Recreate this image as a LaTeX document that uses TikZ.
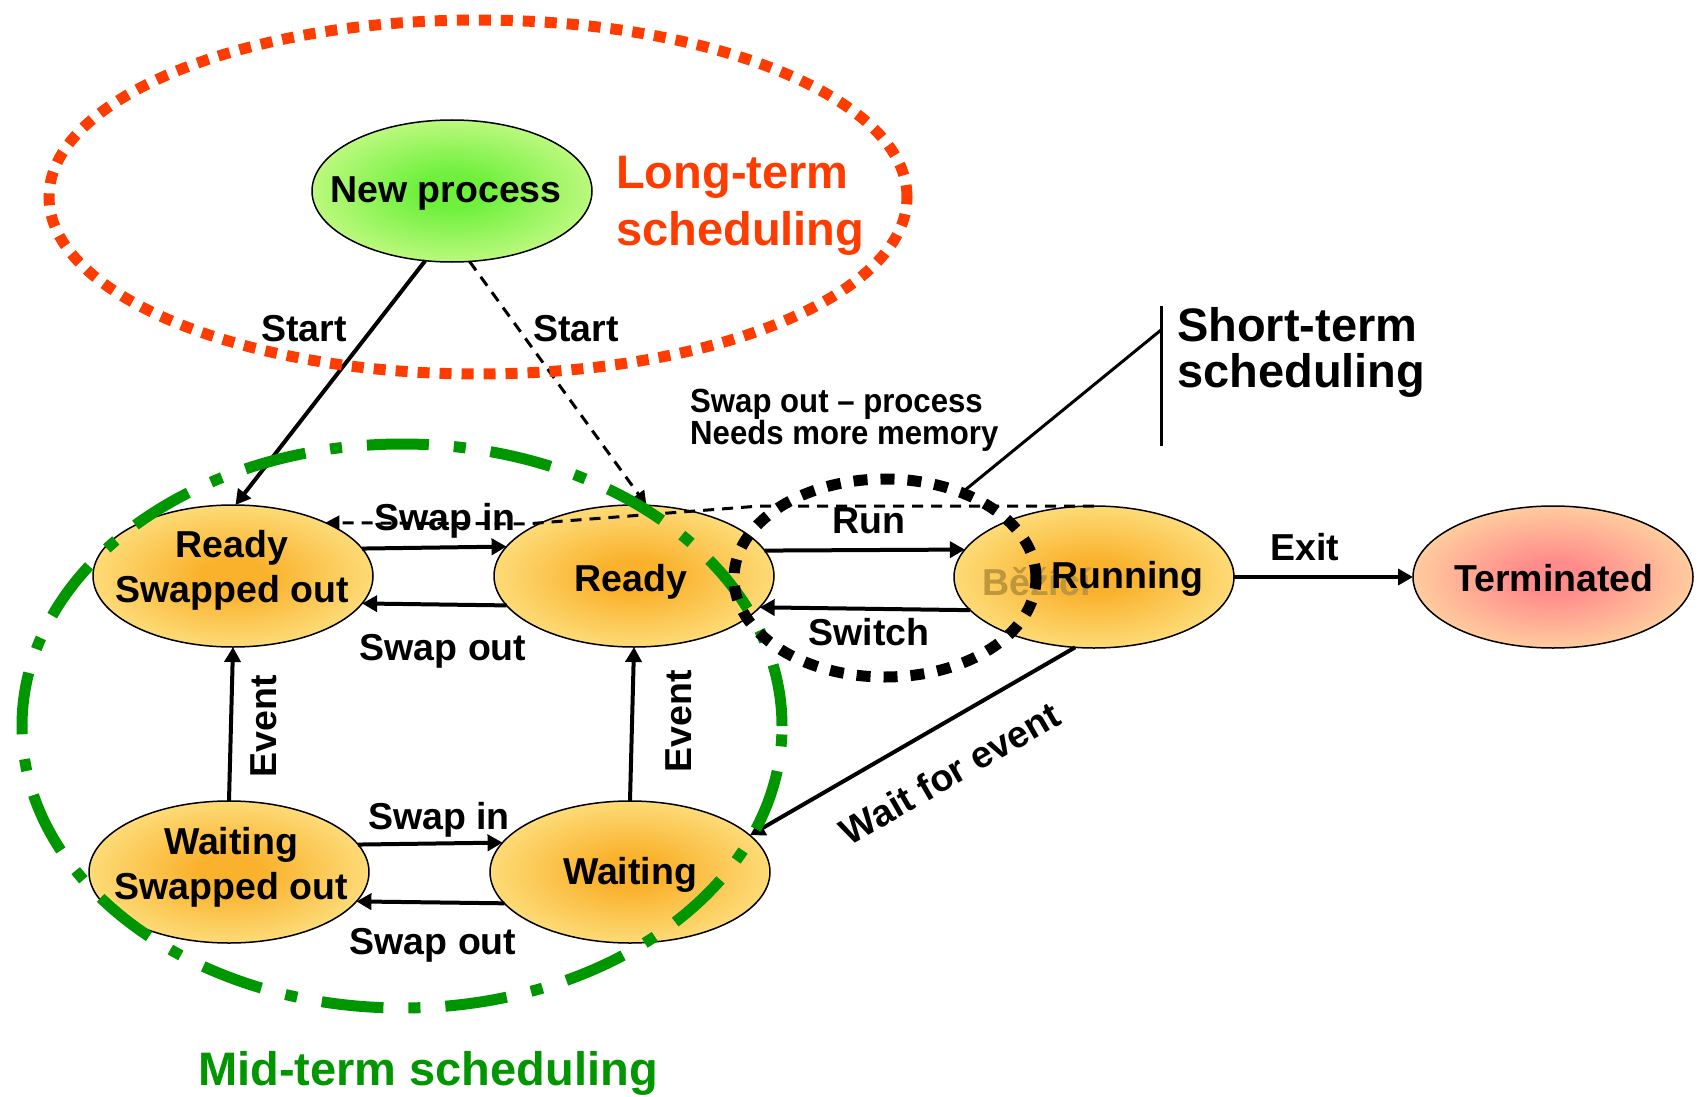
\documentclass[tikz,border=0pt]{standalone}
\usepackage{fontspec}
\setmainfont{Liberation Sans}
\newfontfamily\narrowsans[FakeStretch=0.93]{Liberation Sans}
\usetikzlibrary{shapes.geometric,arrows.meta,calc}
\definecolor{orA}{RGB}{250,178,45}
\definecolor{yeA}{RGB}{255,247,170}
\definecolor{grA}{RGB}{110,240,60}
\definecolor{grB}{RGB}{240,255,170}
\definecolor{piA}{RGB}{255,140,140}
\definecolor{ltred}{RGB}{255,60,0}
\definecolor{midgreen}{RGB}{0,150,0}
\definecolor{ghostc}{RGB}{190,150,60}
\pgfdeclareradialshading{shOrange}{\pgfpoint{0bp}{0bp}}{color(0bp)=(orA); color(6bp)=(orA); color(38bp)=(yeA); color(50bp)=(yeA)}
\pgfdeclareradialshading{shGreen}{\pgfpoint{0bp}{0bp}}{color(0bp)=(grA); color(6bp)=(grA); color(38bp)=(grB); color(50bp)=(grB)}
\pgfdeclareradialshading{shPink}{\pgfpoint{0bp}{0bp}}{color(0bp)=(piA); color(6bp)=(piA); color(38bp)=(yeA); color(50bp)=(yeA)}
\begin{document}
\begin{tikzpicture}[x=1pt,y=-1pt,
  proc/.style={ellipse, draw=black, line width=1.5pt, minimum width=280pt, minimum height=142pt, inner sep=0pt, outer sep=0pt},
  ptext/.style={font=\fontsize{37.5}{45}\selectfont\bfseries, align=center, inner sep=0pt},
  elab/.style={font=\fontsize{37.5}{43}\selectfont\bfseries, inner sep=0pt},
  bigtext/.style={font=\fontsize{47}{57}\selectfont\bfseries, align=left, inner sep=0pt},
  arr/.style={line width=4pt, -{Triangle[length=15pt,width=16pt]}},
  darr/.style={line width=3pt, -{Triangle[length=14pt,width=14pt]}, dash pattern=on 11pt off 8pt},
  schedring/.style={ellipse, inner sep=0pt, outer sep=0pt, line width=11pt}
]
\useasboundingbox (0,0) rectangle (1698,1097);

% process nodes
\node[proc, shading=shGreen] (np) at (452,191) {};
\node[ptext] (npt) at (446,193) {New process};
\node[proc, shading=shOrange] (rso) at (233,576) {};
\node[ptext] (rsot) at (232,570) {Ready\\Swapped out};
\node[proc, shading=shOrange] (r) at (634,576) {};
\node[ptext] (rt) at (631,582) {Ready};
\node[proc, shading=shOrange] (run) at (1094,577) {};
\node[ptext, anchor=base west, text=ghostc] (ghost) at (982,595) {Běžící};
\node[ptext, anchor=base west] (runt) at (1051,588) {Running};
\node[proc, shading=shPink] (term) at (1553,577) {};
\node[ptext] (termt) at (1554,578) {Terminated};
\node[proc, shading=shOrange] (ws) at (229,872) {};
\node[ptext] (wst) at (231,867) {Waiting\\Swapped out};
\node[proc, shading=shOrange] (w) at (630,872) {};
\node[ptext] (wt) at (630,875) {Waiting};

% connectors
\draw[arr] (np.249) -- (rso.88);
\draw[darr] (np.284) -- (r.80);
\draw[arr] (rso.12.8) -- (r.167.2);
\draw[arr] (r.-167.2) -- (rso.-12.8);
\draw[arr] (r.11.9) -- (run.168.1);
\draw[arr] (run.-165.6) -- (r.-14.4);
\draw[arr] (run.east) -- (term.west);
\draw[arr] (run.255) -- (w.17);
\draw[arr] (ws.12.3) -- (w.167.7);
\draw[arr] (w.-166.7) -- (ws.-13.3);
\draw[arr] (ws.north) -- (rso.south);
\draw[arr] (w.north) -- (r.south);
\coordinate (d1) at (760,506);
\coordinate (d2) at (525,524);
\draw[darr] (run.north) -- (d1) -- (d2) -- (rso.30);

% edge labels
\node[elab] (l1) at (304,329) {Start};
\node[elab] (l2) at (576,329) {Start};
\node[elab] (l3) at (445,521) {Swap in};
\node[elab] (l4) at (443,651) {Swap out};
\node[elab] (l5) at (869,521) {Run};
\node[elab] (l6) at (869,632) {Switch};
\node[elab] (l7) at (1305,547) {Exit};
\node[elab] (l8) at (439,820) {Swap in};
\node[elab] (l9) at (433,945) {Swap out};
\node[elab, rotate=90] (l10) at (264,726) {Event};
\node[elab, rotate=90] (l11) at (679,721) {Event};
\node[elab, rotate=30] (l12) at (950,773) {Wait for event};
\node[font=\fontsize{33.5}{29.5}\selectfont\narrowsans\bfseries, align=left, inner sep=0pt, anchor=west] (swn) at (690,420) {Swap out – process\\Needs more memory};

% scheduling rings
\node[schedring, draw=ltred, dash pattern=on 12pt off 10pt, minimum width=858pt, minimum height=354pt] (lt) at (478,197) {};
\node[schedring, draw=midgreen, dash pattern=on 62pt off 25pt on 12pt off 25pt, minimum width=760pt, minimum height=564pt] (mt) at (402,726) {};
\node[schedring, draw=black, dash pattern=on 14pt off 13pt, minimum width=302pt, minimum height=198pt] (st) at (885,578) {};

% scheduling labels
\node[bigtext, text=ltred, anchor=west] (ltt) at (616,206) {Long-term\\scheduling};
\node[bigtext, anchor=west, font=\fontsize{47}{46}\selectfont\bfseries] (stt) at (1177,352) {Short-term\\scheduling};
\node[bigtext, text=midgreen] (mtt) at (428,1073) {Mid-term scheduling};

% short-term bracket
\coordinate (bt) at (1161,306);
\coordinate (bb) at (1161,446);
\coordinate (bj) at (1161,330);
\draw[line width=3pt] (bt) -- (bb);
\draw[line width=3pt] (bj) -- (st.48);
\end{tikzpicture}
\end{document}
